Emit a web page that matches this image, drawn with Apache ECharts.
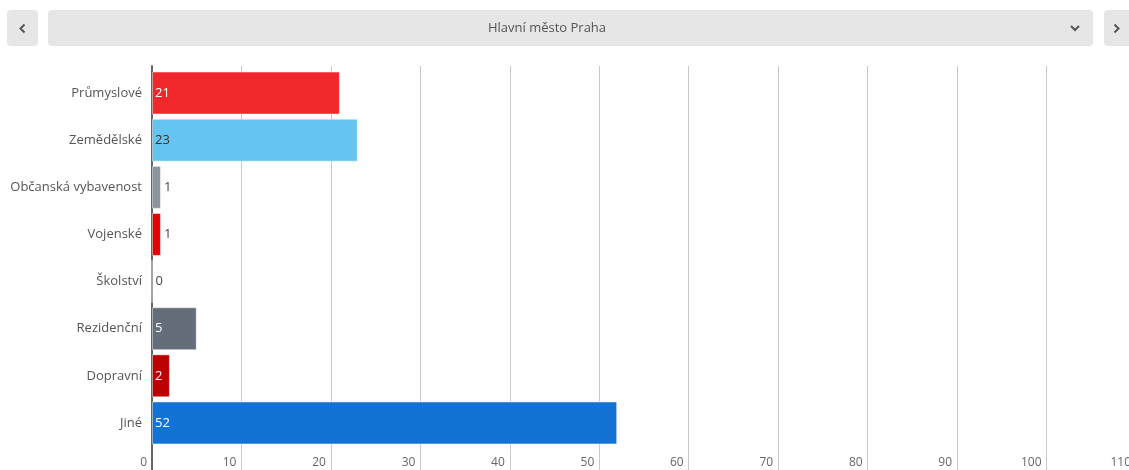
<!DOCTYPE html>
<html>
<head>
<meta charset="utf-8">
<script src="https://cdn.jsdelivr.net/npm/echarts@6/dist/echarts.min.js"></script>
<style>
html,body{margin:0;padding:0;background:#fff;}
#c{width:1129px;height:470px;}
</style>
</head>
<body>
<div id="c"></div>
<script>
const title = 'Hlavní město Praha';
const categories = ['Průmyslové','Zemědělské','Občanská vybavenost','Vojenské','Školství','Rezidenční','Dopravní','Jiné'];
const values = [21, 23, 1, 1, 0, 5, 2, 52];
const colors = ['#f2272b','#66c4f0','#8b939c','#e60000','#8b939c','#646e7a','#bd0000','#1373d5'];
const labelColors = ['#fff','#333','#444','#444','#444','#fff','#fff','#fff'];
const xTicks = [0,10,20,30,40,50,60,70,80,90,100,110];

const FONT = '"Open Sans", "Noto Sans", sans-serif';
const chart = echarts.init(document.getElementById('c'), null, {renderer:'canvas'});

const data = values.map((v,i)=>({
  value: v,
  itemStyle: {color: colors[i]},
  label: {
    position: v >= 2 ? 'insideLeft' : 'right',
    distance: 3,
    color: labelColors[i]
  }
}));

const chev = (pts) => ({type:'polyline', shape:{points:pts}, style:{stroke:'#555', lineWidth:2, fill:null}, z:10});

chart.setOption({
  animation:false,
  grid:[
    {left:152, right:-7, top:66, bottom:0, containLabel:false, outerBoundsMode:'none'},
    {left:152, right:-7, top:69.5, bottom:23.5, containLabel:false, outerBoundsMode:'none'}
  ],
  xAxis:[
    {gridIndex:0, type:'value', min:0, max:110, interval:10,
     axisLine:{show:false}, axisTick:{show:false},
     splitLine:{show:true, lineStyle:{color:'#c8c8c8', width:1}},
     axisLabel:{inside:true, align:'right', verticalAlign:'bottom', margin:0, padding:[0,5,1,0],
       color:'#666', fontSize:12, fontFamily:FONT, showMaxLabel:true, showMinLabel:true,
       formatter:(v)=> xTicks.includes(v) ? String(v) : ''}},
    {gridIndex:1, type:'value', min:0, max:110, interval:10, show:false}
  ],
  yAxis:[
    {gridIndex:0, type:'value', min:0, max:1,
     axisLine:{show:true, onZero:false, lineStyle:{color:'#666', width:2}},
     axisTick:{show:false}, axisLabel:{show:false}, splitLine:{show:false}},
    {gridIndex:1, type:'category', data:categories, inverse:true,
     axisLine:{show:false}, axisTick:{show:false}, splitLine:{show:false},
     axisLabel:{color:'#555', fontSize:13, fontFamily:FONT, margin:10}}
  ],
  series:[{
    type:'bar', xAxisIndex:1, yAxisIndex:1,
    data:data,
    barCategoryGap:'9%',
    itemStyle:{borderColor:'rgba(255,255,255,0.45)', borderWidth:1},
    label:{show:true, fontSize:13, fontFamily:FONT, formatter:'{c}'}
  }],
  graphic:[
    {type:'rect', shape:{x:7, y:10, width:31, height:36, r:4}, style:{fill:'#e6e6e6'}},
    {type:'rect', shape:{x:48, y:10, width:1045, height:36, r:4}, style:{fill:'#e6e6e6'}},
    {type:'rect', shape:{x:1104, y:10, width:40, height:36, r:4}, style:{fill:'#e6e6e6'}},
    chev([[24.5,24.5],[20.5,28.5],[24.5,32.5]]),
    chev([[1114.5,24.5],[1118.5,28.5],[1114.5,32.5]]),
    chev([[1071,26],[1075,30],[1079,26]]),
    {type:'text', x:547, y:28, style:{text:title, fill:'#555', fontSize:13, fontFamily:FONT, align:'center', verticalAlign:'middle'}, z:10}
  ]
});
</script>
</body>
</html>
